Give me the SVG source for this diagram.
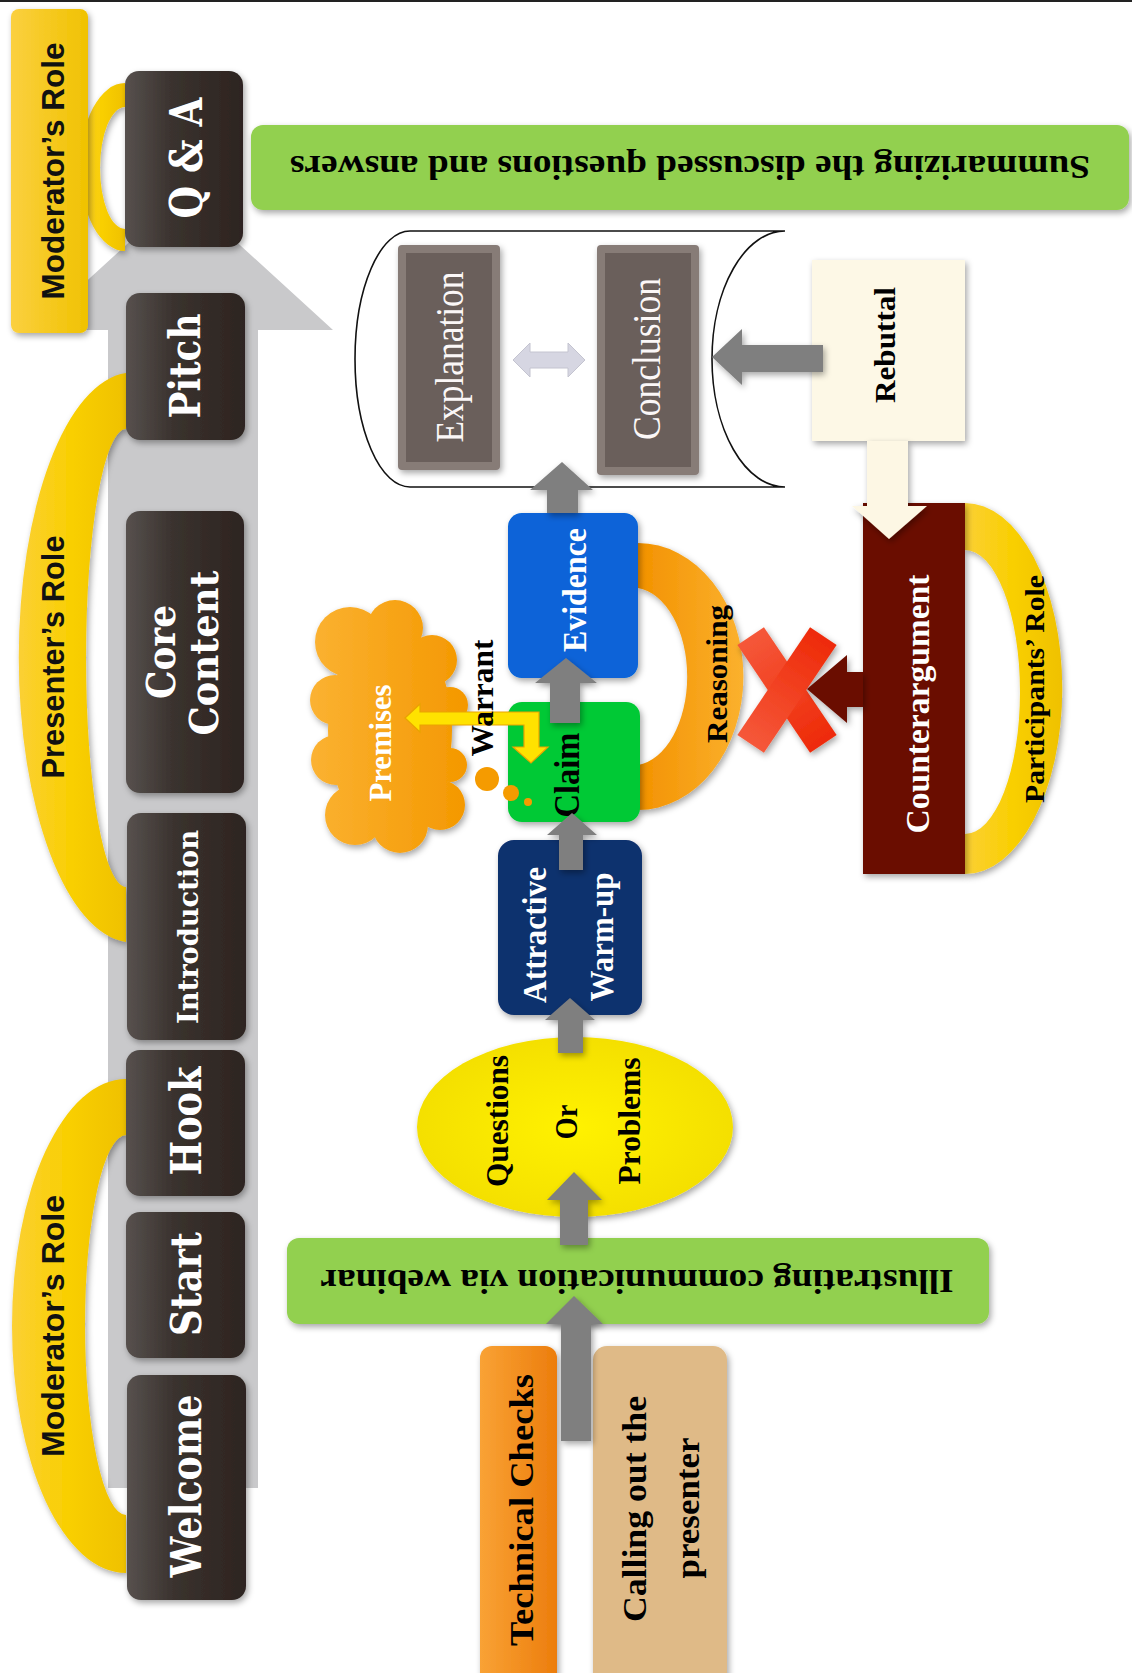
<svg xmlns="http://www.w3.org/2000/svg" width="1132" height="1673" viewBox="0 0 1132 1673">
<defs>
<linearGradient id="gDark" x1="0" y1="0" x2="1" y2="0"><stop offset="0" stop-color="#57514e"/><stop offset="0.4" stop-color="#3a322e"/><stop offset="1" stop-color="#2d2420"/></linearGradient>
<linearGradient id="gYel" x1="0" y1="0" x2="1" y2="0"><stop offset="0" stop-color="#fbd035"/><stop offset="0.5" stop-color="#f9cf00"/><stop offset="1" stop-color="#efc100"/></linearGradient>
<linearGradient id="gYelBox" x1="0" y1="0" x2="1" y2="0"><stop offset="0" stop-color="#fbd040"/><stop offset="1" stop-color="#f0c200"/></linearGradient>
<linearGradient id="gOr" x1="0" y1="0" x2="1" y2="0"><stop offset="0" stop-color="#f39200"/><stop offset="1" stop-color="#fbb12e"/></linearGradient>
<linearGradient id="gCloud" gradientUnits="userSpaceOnUse" x1="310" y1="0" x2="467" y2="0"><stop offset="0" stop-color="#fbb232"/><stop offset="1" stop-color="#f49800"/></linearGradient>
<linearGradient id="gTech" x1="0" y1="0" x2="1" y2="0"><stop offset="0" stop-color="#f9a235"/><stop offset="1" stop-color="#ec7d0c"/></linearGradient>
<radialGradient id="gEll" cx="0.5" cy="0.5" r="0.6"><stop offset="0" stop-color="#fff200"/><stop offset="1" stop-color="#f2dc00"/></radialGradient>
<linearGradient id="gX" x1="0" y1="0" x2="1" y2="0"><stop offset="0" stop-color="#f5583a"/><stop offset="1" stop-color="#ee2a08"/></linearGradient>
<filter id="sh" x="-20%" y="-20%" width="140%" height="140%"><feDropShadow dx="2" dy="3" stdDeviation="3" flood-color="#000" flood-opacity="0.35"/></filter>
</defs>
<style>
.dark{fill:url(#gDark);filter:url(#sh)}
.slab{font-family:"DejaVu Serif",serif;font-weight:bold;fill:#fff}
.role{font-family:"Liberation Sans",Arial,sans-serif;font-weight:bold;font-size:32px;fill:#111}
.ser{font-family:"Liberation Serif","Times New Roman",serif;font-weight:bold}
.w{fill:#fff}
.k{fill:#000}
.arc{fill:url(#gYel);filter:url(#sh)}
.green{fill:#92d050;filter:url(#sh)}
.garrow{fill:#7f7f7f;filter:url(#sh)}
</style>
<rect x="0" y="0" width="1132" height="2" fill="#222"/>

<g id="timeline-arrow">
<polygon points="108,1488 258,1488 258,330 333,330 183,193 33,330 108,330" fill="#c9c9cb"/>
</g>

<g id="role-arcs">
<path class="arc" d="M125 83 A45 84 0 0 0 125 251 L125 229 A25 61 0 0 1 125 107 Z"/>
<path class="arc" d="M126 373 A114 285 0 0 0 126 942 L126 887 A40 229 0 0 1 126 429 Z"/>
<path class="arc" d="M126 1079 A114 247 0 0 0 126 1573 L126 1515 A41 190 0 0 1 126 1135 Z"/>
<path class="arc" d="M965 503 A97 185 0 0 1 965 874 L965 834 A55 142 0 0 0 965 550 Z"/>
<path d="M638 543 A105 133 0 0 1 638 810 L638 765 A55 89 0 0 0 638 588 Z" fill="url(#gOr)" filter="url(#sh)"/>
</g>

<g id="moderator-role-top">
<rect x="11" y="9" width="77" height="324" rx="8" fill="url(#gYelBox)" filter="url(#sh)"/>
<text class="role" transform="translate(52,171) rotate(-90)" y="11.5" text-anchor="middle" textLength="257" lengthAdjust="spacingAndGlyphs">Moderator’s Role</text>
</g>
<g id="presenter-role">
<text class="role" transform="translate(52,657) rotate(-90)" y="11.5" text-anchor="middle" textLength="243" lengthAdjust="spacingAndGlyphs">Presenter’s Role</text>
</g>
<g id="moderator-role-bottom">
<text class="role" transform="translate(52,1326) rotate(-90)" y="11.5" text-anchor="middle" textLength="262" lengthAdjust="spacingAndGlyphs">Moderator’s Role</text>
</g>

<g id="qa">
<rect class="dark" x="125" y="71" width="118" height="176" rx="14"/>
<text class="slab" font-size="44" transform="translate(186,158) rotate(-90)" y="16" text-anchor="middle" textLength="121" lengthAdjust="spacingAndGlyphs">Q &amp; A</text>
</g>
<g id="pitch">
<rect class="dark" x="126" y="293" width="119" height="147" rx="14"/>
<text class="slab" font-size="42" transform="translate(185,366) rotate(-90)" y="15" text-anchor="middle" textLength="105" lengthAdjust="spacingAndGlyphs">Pitch</text>
</g>
<g id="core-content">
<rect class="dark" x="126" y="511" width="118" height="282" rx="14"/>
<text class="slab" font-size="40" transform="translate(160,652) rotate(-90)" y="14.5" text-anchor="middle" textLength="94" lengthAdjust="spacingAndGlyphs">Core</text>
<text class="slab" font-size="40" transform="translate(203,653) rotate(-90)" y="14.5" text-anchor="middle" textLength="165" lengthAdjust="spacingAndGlyphs">Content</text>
</g>
<g id="introduction">
<rect class="dark" x="127" y="813" width="119" height="227" rx="14"/>
<text class="slab" font-size="28" transform="translate(188,927) rotate(-90)" y="10" text-anchor="middle" textLength="194" lengthAdjust="spacingAndGlyphs">Introduction</text>
</g>
<g id="hook">
<rect class="dark" x="126" y="1050" width="119" height="146" rx="14"/>
<text class="slab" font-size="42" transform="translate(186,1121) rotate(-90)" y="15" text-anchor="middle" textLength="109" lengthAdjust="spacingAndGlyphs">Hook</text>
</g>
<g id="start">
<rect class="dark" x="126" y="1212" width="119" height="146" rx="14"/>
<text class="slab" font-size="42" transform="translate(186,1284) rotate(-90)" y="15" text-anchor="middle" textLength="104" lengthAdjust="spacingAndGlyphs">Start</text>
</g>
<g id="welcome">
<rect class="dark" x="127" y="1375" width="119" height="225" rx="14"/>
<text class="slab" font-size="42" transform="translate(186,1486) rotate(-90)" y="15" text-anchor="middle" textLength="183" lengthAdjust="spacingAndGlyphs">Welcome</text>
</g>

<g id="summarizing">
<rect class="green" x="251" y="125" width="878" height="85" rx="12"/>
<text class="ser k" font-size="33" transform="translate(690,167) rotate(180)" y="11" text-anchor="middle" textLength="800" lengthAdjust="spacingAndGlyphs">Summarizing the discussed questions and answers</text>
</g>

<g id="container">
<path d="M410 231 L785 231 A73 128 0 0 0 785 487 L410 487 A55 128 0 0 1 410 231 Z" fill="#fff" stroke="#111" stroke-width="1.6"/>
</g>
<g id="explanation">
<rect x="398" y="245" width="102" height="225" rx="4" fill="#877b77" filter="url(#sh)"/>
<rect x="406" y="253" width="86" height="209" fill="#6a5f5b"/>
<text class="ser" style="font-weight:normal" fill="#fbf7f7" font-size="39" transform="translate(450,357) rotate(-90)" y="12.5" text-anchor="middle" textLength="171" lengthAdjust="spacingAndGlyphs">Explanation</text>
</g>
<g id="conclusion">
<rect x="597" y="245" width="102" height="230" rx="4" fill="#877b77" filter="url(#sh)"/>
<rect x="605" y="253" width="86" height="214" fill="#6a5f5b"/>
<text class="ser" style="font-weight:normal" fill="#fbf7f7" font-size="39" transform="translate(647,359) rotate(-90)" y="12.5" text-anchor="middle" textLength="162" lengthAdjust="spacingAndGlyphs">Conclusion</text>
</g>

<g id="rebuttal">
<rect x="812" y="260" width="153" height="181" fill="#fdf8e6" filter="url(#sh)"/>
<text class="ser k" font-size="30" transform="translate(885,345) rotate(-90)" y="10" text-anchor="middle" textLength="116" lengthAdjust="spacingAndGlyphs">Rebuttal</text>
</g>

<g id="counterargument">
<rect x="863" y="503" width="102" height="371" fill="#6b1106" filter="url(#sh)"/>
<text class="ser w" font-size="34" transform="translate(918,704) rotate(-90)" y="11" text-anchor="middle" textLength="259" lengthAdjust="spacingAndGlyphs">Counterargument</text>
</g>
<g id="participants-role">
<text class="ser k" font-size="28" transform="translate(1035,689) rotate(-90)" y="9" text-anchor="middle" textLength="228" lengthAdjust="spacingAndGlyphs">Participants’ Role</text>
</g>

<g id="reasoning">
<text class="ser k" font-size="30" transform="translate(717,674) rotate(-90)" y="10" text-anchor="middle" textLength="138" lengthAdjust="spacingAndGlyphs">Reasoning</text>
</g>

<g id="evidence">
<rect x="508" y="513" width="130" height="165" rx="14" fill="#0764d8" filter="url(#sh)"/>
<text class="ser w" font-size="34" transform="translate(575,590) rotate(-90)" y="11" text-anchor="middle" textLength="124" lengthAdjust="spacingAndGlyphs">Evidence</text>
</g>
<g id="claim">
<rect x="508" y="702" width="132" height="120" rx="14" fill="#05c935" filter="url(#sh)"/>
<text class="ser k" font-size="36" transform="translate(567,775) rotate(-90)" y="12" text-anchor="middle" textLength="85" lengthAdjust="spacingAndGlyphs">Claim</text>
</g>
<g id="premises">
<g fill="url(#gCloud)" filter="url(#sh)">
<ellipse cx="390" cy="730" rx="62" ry="105"/>
<circle cx="350" cy="642" r="35"/>
<circle cx="395" cy="628" r="28"/>
<circle cx="432" cy="660" r="25"/>
<circle cx="335" cy="700" r="25"/>
<circle cx="450" cy="705" r="18"/>
<circle cx="336" cy="760" r="25"/>
<circle cx="450" cy="765" r="17"/>
<circle cx="355" cy="815" r="30"/>
<circle cx="400" cy="825" r="28"/>
<circle cx="440" cy="805" r="25"/>
</g>
<text class="ser w" font-size="32" transform="translate(380,743) rotate(-90)" y="10.5" text-anchor="middle" textLength="117" lengthAdjust="spacingAndGlyphs">Premises</text>
<circle cx="487" cy="779" r="12" fill="#f59b00"/>
<circle cx="511" cy="793" r="8" fill="#f59b00"/>
<circle cx="528" cy="802" r="4" fill="#f59b00"/>
</g>
<g id="attractive-warm-up">
<rect x="498" y="840" width="144" height="175" rx="16" fill="#10306e" filter="url(#sh)"/>
<text class="ser w" font-size="34" transform="translate(535,935) rotate(-90)" y="11" text-anchor="middle" textLength="136" lengthAdjust="spacingAndGlyphs">Attractive</text>
<text class="ser w" font-size="34" transform="translate(602,937) rotate(-90)" y="11" text-anchor="middle" textLength="129" lengthAdjust="spacingAndGlyphs">Warm-up</text>
</g>
<g id="questions-or-problems">
<ellipse cx="575" cy="1127" rx="158" ry="90" fill="url(#gEll)" filter="url(#sh)"/>
<text class="ser k" font-size="31" transform="translate(498,1121) rotate(-90)" y="10" text-anchor="middle" textLength="132" lengthAdjust="spacingAndGlyphs">Questions</text>
<text class="ser k" font-size="31" transform="translate(567,1122) rotate(-90)" y="10" text-anchor="middle" textLength="35" lengthAdjust="spacingAndGlyphs">Or</text>
<text class="ser k" font-size="31" transform="translate(630,1121) rotate(-90)" y="10" text-anchor="middle" textLength="127" lengthAdjust="spacingAndGlyphs">Problems</text>
</g>
<g id="illustrating">
<rect class="green" x="287" y="1238" width="702" height="86" rx="12"/>
<text class="ser k" font-size="33" transform="translate(637,1281) rotate(180)" y="11" text-anchor="middle" textLength="633" lengthAdjust="spacingAndGlyphs">Illustrating communication via webinar</text>
</g>
<g id="technical-checks">
<rect x="480" y="1346" width="77" height="360" rx="12" fill="url(#gTech)" filter="url(#sh)"/>
<text class="ser k" font-size="34" transform="translate(522,1510) rotate(-90)" y="11" text-anchor="middle" textLength="272" lengthAdjust="spacingAndGlyphs">Technical Checks</text>
</g>
<g id="calling-out">
<rect x="593" y="1346" width="134" height="360" rx="14" fill="#dfba87" filter="url(#sh)"/>
<text class="ser k" font-size="34" transform="translate(635,1509) rotate(-90)" y="11" text-anchor="middle" textLength="226" lengthAdjust="spacingAndGlyphs">Calling out the</text>
<text class="ser k" font-size="34" transform="translate(688,1508) rotate(-90)" y="11" text-anchor="middle" textLength="141" lengthAdjust="spacingAndGlyphs">presenter</text>
</g>
<g id="rejection-x">
<g fill="url(#gX)" filter="url(#sh)">
<rect x="722" y="674" width="130" height="32" transform="rotate(56 787 690)"/>
<rect x="722" y="674" width="130" height="32" transform="rotate(-56 787 690)"/>
</g>
</g>

<g id="connectors">
<polygon class="garrow" points="561,1441 591,1441 591,1324 603,1324 574,1296 546,1324 561,1324"/>
<polygon class="garrow" points="560,1245 588,1245 588,1200 602,1200 574,1172 547,1200 560,1200"/>
<polygon class="garrow" points="558,1053 583,1053 583,1020 595,1020 570,998 545,1020 558,1020"/>
<polygon class="garrow" points="559,870 583,870 583,835 597,835 572,813 547,835 559,835"/>
<polygon class="garrow" points="550,723 580,723 580,683 597,683 566,658 535,683 550,683"/>
<polygon class="garrow" points="547,513 578,513 578,490 593,490 562,462 530,490 547,490"/>
<polygon class="garrow" points="823,345 823,372 742,372 742,385 712,357 742,329 742,345"/>
<polygon points="867,441 908,441 908,506 927,506 889,539 852,506 867,506" fill="#fdf7e4" filter="url(#sh)"/>
<polygon points="863,672 863,707 847,707 847,723 807,689 847,655 847,672" fill="#6b1106" filter="url(#sh)"/>
<polygon points="513,360 530,343 530,352 568,352 568,343 585,360 568,377 568,368 530,368 530,377" fill="#d6d6e2" stroke="#c4c4d0" stroke-width="1"/>
<polygon points="405,718 420,704 420,712 539,712 539,747 548,747 531,763 513,747 524,747 524,725 420,725 420,732" fill="#ffe200" stroke="#e9a300" stroke-width="1.2"/>
<text class="ser k" font-size="32" transform="translate(482,698) rotate(-90)" y="10.5" text-anchor="middle" textLength="117" lengthAdjust="spacingAndGlyphs">Warrant</text>
</g>
</svg>
